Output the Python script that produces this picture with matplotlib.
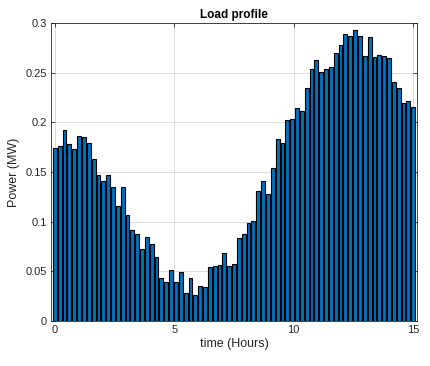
import numpy as np
import matplotlib
matplotlib.use("Agg")
import matplotlib.pyplot as plt

# load readings, one every 15/74 h from 0 to 15 h
power_mw = [
    0.174, 0.176, 0.192, 0.178, 0.173, 0.186, 0.185, 0.179, 0.163, 0.147,
    0.141, 0.147, 0.135, 0.116, 0.135, 0.107, 0.092, 0.088, 0.072, 0.085,
    0.078, 0.064, 0.043, 0.039, 0.051, 0.039, 0.049, 0.028, 0.043, 0.026,
    0.035, 0.034, 0.054, 0.055, 0.056, 0.068, 0.055, 0.057, 0.084, 0.088,
    0.099, 0.101, 0.131, 0.141, 0.128, 0.154, 0.183, 0.179, 0.202, 0.203,
    0.214, 0.211, 0.235, 0.254, 0.263, 0.251, 0.254, 0.256, 0.270, 0.278,
    0.289, 0.287, 0.293, 0.287, 0.267, 0.286, 0.266, 0.268, 0.267, 0.265,
    0.241, 0.235, 0.220, 0.222, 0.215,
]
time_h = np.linspace(0, 15, len(power_mw))
y_ticks = [0, 0.05, 0.1, 0.15, 0.2, 0.25, 0.3]
y_labels = ["0", "0.05", "0.1", "0.15", "0.2", "0.25", "0.3"]
x_ticks = [0, 5, 10, 15]

plt.rcParams["font.family"] = ["Liberation Sans", "DejaVu Sans"]
fig = plt.figure(figsize=(4.31, 3.66), dpi=100)
ax = fig.add_axes([0.118, 0.123, 0.85, 0.814])

step = time_h[1] - time_h[0]
ax.bar(time_h, power_mw, width=0.8 * step, color="#0072BD",
       edgecolor="black", linewidth=0.8, zorder=2)

ax.set_xlim(-0.168, 15.168)
ax.set_ylim(0, 0.3)
ax.set_xticks(x_ticks)
ax.set_yticks(y_ticks)
ax.set_yticklabels(y_labels)
ax.grid(True, color="#dcdcdc", linewidth=0.7, zorder=0)
ax.set_axisbelow(True)
ax.tick_params(direction="in", top=True, right=True, labelsize=8,
               length=3, width=0.6, colors="#262626", pad=3)
for s in ax.spines.values():
    s.set_color("#262626")
    s.set_linewidth(0.6)

ax.set_title("Load profile", fontsize=8.5, fontweight="bold", pad=4)
ax.set_xlabel("time (Hours)", fontsize=9, color="#262626", labelpad=2)
ax.set_ylabel("Power (MW)", fontsize=9, color="#262626", labelpad=4)

fig.savefig("out.png", dpi=100)
